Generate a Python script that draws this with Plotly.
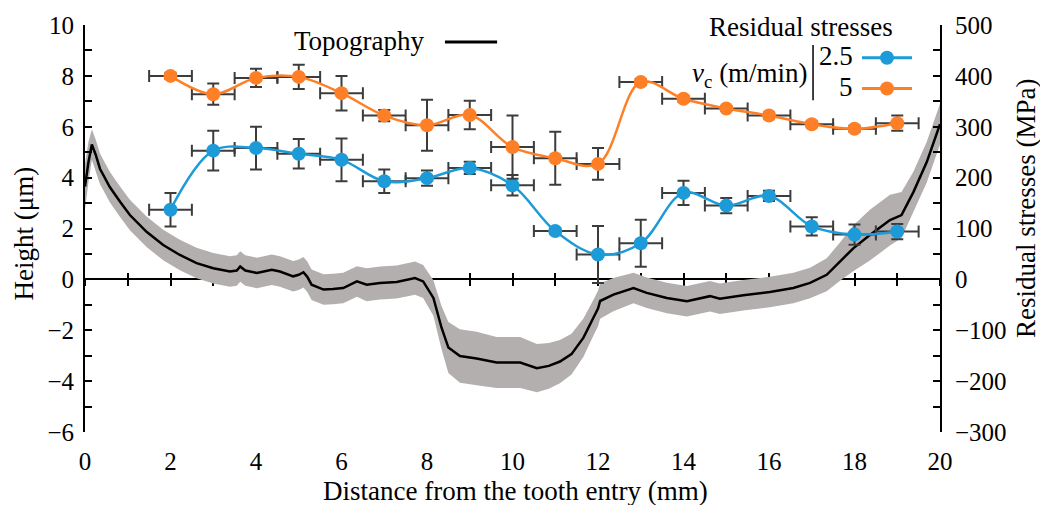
import plotly.graph_objects as go

# ---------------- data ----------------
rs_x = [2, 3, 4, 5, 6, 7, 8, 9, 10, 11, 12, 13, 14, 15, 16, 17, 18, 19]
rs_xerr = 0.5
rs_v25 = [137, 253, 258, 247, 235, 193, 199, 219, 185, 95, 49, 71, 170, 145, 164, 104, 88, 94]
rs_v25_err = [33, 39, 42, 29, 42, 23, 15, 12, 20, 5, 56, 46, 24, 15, 10, 18, 20, 15]
rs_v5 = [400, 364, 396, 398, 366, 322, 303, 323, 260, 238, 227, 388, 355, 336, 322, 305, 296, 307]
rs_v5_err = [6, 21, 18, 24, 34, 11, 50, 28, 62, 52, 31, 6, 6, 5, 6, 6, 6, 15]

topo_x = [0.0, 0.08, 0.16, 0.25, 0.35, 0.58, 0.82, 1.05, 1.44, 1.83,
          2.22, 2.61, 3.0, 3.39, 3.55, 3.63, 3.75, 4.02, 4.37, 4.56,
          4.87, 5.0, 5.11, 5.2, 5.3, 5.58, 5.8, 6.04, 6.36, 6.59,
          6.9, 7.29, 7.72, 7.91, 8.15, 8.34, 8.5, 8.77, 9.16, 9.63,
          10.18, 10.57, 10.85, 11.11, 11.38, 11.66, 11.93, 12.0, 12.05, 12.36,
          12.83, 13.14, 13.61, 14.08, 14.62, 14.85, 15.4, 16.02, 16.57, 16.96,
          17.35, 17.66, 17.97, 18.36, 18.83, 19.1, 19.38, 19.69, 20.0]
topo_h = [3.65, 4.6, 5.3, 4.9, 4.35, 3.63, 3.05, 2.53, 1.87, 1.35,
          0.96, 0.64, 0.44, 0.31, 0.35, 0.51, 0.35, 0.25, 0.38, 0.31,
          0.12, 0.18, 0.28, 0.1, -0.21, -0.40, -0.38, -0.34, -0.08, -0.21,
          -0.14, -0.10, 0.05, -0.08, -0.73, -1.90, -2.68, -3.01, -3.11, -3.27,
          -3.27, -3.49, -3.40, -3.23, -2.94, -2.29, -1.38, -1.15, -0.85, -0.60,
          -0.34, -0.53, -0.73, -0.86, -0.66, -0.76, -0.62, -0.50, -0.34, -0.14,
          0.18, 0.70, 1.22, 1.74, 2.33, 2.53, 3.44, 4.61, 6.1]
topo_band = [0.9, 0.8, 0.6, 0.6, 0.6, 0.6, 0.6, 0.6, 0.6, 0.6,
             0.6, 0.6, 0.6, 0.6, 0.6, 0.6, 0.6, 0.6, 0.6, 0.6,
             0.6, 0.6, 0.6, 0.6, 0.6, 0.6, 0.6, 0.6, 0.6, 0.65,
             0.65, 0.65, 0.65, 0.65, 0.7, 0.85, 1.0, 1.05, 1.05, 1.0,
             1.0, 0.95, 0.9, 0.85, 0.8, 0.75, 0.7, 0.7, 0.7, 0.65,
             0.6, 0.6, 0.6, 0.6, 0.6, 0.6, 0.6, 0.6, 0.6, 0.6,
             0.65, 0.75, 0.9, 1.0, 1.0, 0.9, 0.8, 0.8, 0.8]

x_ticks = [0, 2, 4, 6, 8, 10, 12, 14, 16, 18, 20]

# ---------------- style ----------------
FONT = "Liberation Serif"
FS_TICK = 25
FS = 27
BLUE = "rgb(29,155,216)"
ORANGE = "rgb(255,127,39)"
GREY_BAND = "rgb(180,175,175)"
ERR = "rgb(60,60,60)"

upper = [h + w for h, w in zip(topo_h, topo_band)]
lower = [h - w for h, w in zip(topo_h, topo_band)]

fig = go.Figure()
fig.add_trace(go.Scatter(x=topo_x + topo_x[::-1], y=upper + lower[::-1],
                         fill="toself", fillcolor=GREY_BAND, line=dict(width=0),
                         mode="lines", hoverinfo="skip", showlegend=False))
fig.add_trace(go.Scatter(x=topo_x, y=topo_h, mode="lines",
                         line=dict(color="black", width=2.5), showlegend=False))

for ys, errs, col, xa in [(rs_v25, rs_v25_err, BLUE, "x2"), (rs_v5, rs_v5_err, ORANGE, "x3")]:
    fig.add_trace(go.Scatter(
        x=rs_x, y=ys, xaxis=xa, yaxis="y2", mode="lines+markers",
        line=dict(color=col, width=2.5, shape="spline", smoothing=1),
        marker=dict(color=col, size=14),
        error_y=dict(type="data", array=errs, color=ERR, thickness=2, width=6),
        error_x=dict(type="constant", value=rs_xerr, color=ERR, thickness=2, width=6),
        showlegend=False))

axis_common = dict(showgrid=False, zeroline=False, color="black")

fig.update_layout(
    width=1040, height=505, autosize=False,
    margin=dict(l=85, r=100, t=22, b=73),
    plot_bgcolor="white", paper_bgcolor="white",
    font=dict(family=FONT, size=FS, color="black"),
    xaxis=dict(range=[0, 20], tickvals=x_ticks, showline=False, ticks="",
               ticklabelstandoff=12, tickfont=dict(size=FS_TICK), **axis_common),
    xaxis2=dict(range=[0, 20], overlaying="x", anchor="free", position=0.375,
                showline=True, linewidth=2, linecolor="black", layer="below traces",
                ticks="outside", ticklen=6, tickwidth=2, tickcolor="black",
                dtick=1, tick0=0, showticklabels=False, **axis_common),
    xaxis3=dict(range=[0, 20], overlaying="x", anchor="free", position=0.375,
                showline=False, ticks="inside", ticklen=6, tickwidth=2, layer="below traces",
                tickcolor="black", dtick=1, tick0=0, showticklabels=False,
                **axis_common),
    yaxis=dict(range=[-6, 10], dtick=2, tick0=0, showline=True, linewidth=2,
               linecolor="black", ticks="inside", ticklen=7, tickwidth=2,
               tickcolor="black", ticklabelstandoff=4, tickfont=dict(size=FS_TICK),
               minor=dict(dtick=1, ticks="inside", ticklen=7, tickwidth=2,
                          tickcolor="black"),
               **axis_common),
    yaxis2=dict(range=[-300, 500], dtick=100, tick0=0, overlaying="y",
                side="right", anchor="x", showline=True, linewidth=2,
                linecolor="black", ticks="inside", ticklen=7, tickwidth=2,
                tickcolor="black", ticklabelstandoff=8, tickfont=dict(size=FS_TICK),
                minor=dict(dtick=50, ticks="inside", ticklen=7, tickwidth=2,
                           tickcolor="black"),
                **axis_common),
)

# axis titles (as annotations to match placement)
fig.add_annotation(text="Distance from the tooth entry (mm)", xref="paper", yref="paper",
                   x=0.503, y=-0.146, showarrow=False, xanchor="center", yanchor="middle")
fig.add_annotation(text="Height (μm)", xref="paper", yref="paper", textangle=-90,
                   x=-0.0713, y=0.488, showarrow=False, xanchor="center", yanchor="middle")
fig.add_annotation(text="Residual stresses (MPa)", xref="paper", yref="paper", textangle=-90,
                   x=1.100, y=0.549, showarrow=False, xanchor="center", yanchor="middle")

# legend
fig.add_annotation(text="Topography", xref="paper", yref="paper", x=0.400, y=0.960,
                   showarrow=False, xanchor="right", yanchor="middle")
fig.add_shape(type="line", xref="paper", yref="paper", x0=0.421, x1=0.482,
              y0=0.9585, y1=0.9585, line=dict(color="black", width=3))
fig.add_annotation(text="Residual stresses", xref="paper", yref="paper", x=0.837, y=0.994,
                   showarrow=False, xanchor="center", yanchor="middle")
fig.add_annotation(text="<i>v</i><sub>c</sub> (m/min)", xref="paper", yref="paper",
                   x=0.848, y=0.878, showarrow=False, xanchor="right", yanchor="middle")
fig.add_shape(type="line", xref="paper", yref="paper", x0=0.8515, x1=0.8515,
              y0=0.815, y1=0.951, line=dict(color="black", width=1.5))
for lab, yl, col in [("2.5", 0.9195, BLUE), ("5", 0.8439, ORANGE)]:
    fig.add_annotation(text=lab, xref="paper", yref="paper", x=0.9006, y=yl + 0.004,
                       showarrow=False, xanchor="right", yanchor="middle")
    fig.add_shape(type="line", xref="paper", yref="paper", x0=0.9088, x1=0.9673,
                  y0=yl, y1=yl, line=dict(color=col, width=3))
    fig.add_shape(type="circle", xref="paper", yref="paper",
                  xsizemode="pixel", ysizemode="pixel",
                  xanchor=0.938, yanchor=yl, x0=-7, x1=7, y0=-7, y1=7,
                  fillcolor=col, line=dict(color=col, width=0))

fig.write_html("out.html")
